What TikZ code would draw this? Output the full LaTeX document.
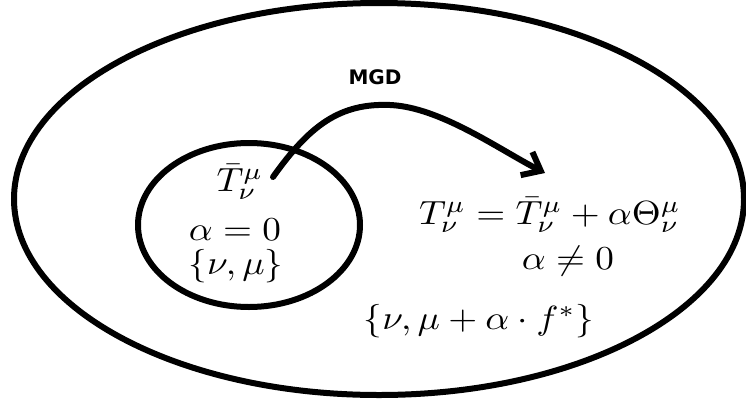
\documentclass[tikz,border=0pt]{standalone}
\usepackage{fontspec}
\newfontfamily\labelfont{DejaVu Sans}
\usetikzlibrary{arrows.meta}
\tikzset{
  ring/.style={draw=black, line width=6pt},
  mathtxt/.style={inner sep=0pt, xscale=3.72, yscale=3.35, transform shape},
  mgdtxt/.style={inner sep=0pt, font=\labelfont\bfseries\fontsize{20}{24}\selectfont},
  flow/.style={line width=6pt, line cap=round, -{Straight Barb[length=16pt,width=26pt,line width=6pt]}}
}
\begin{document}
\begin{tikzpicture}[x=1pt,y=-1pt]
  \useasboundingbox (0,0) rectangle (746,402);
  \fill[white] (0,0) rectangle (746,402);
  % outer region
  \draw[ring] (379,199) ellipse [x radius=365, y radius=196];
  % inner region
  \draw[ring] (249,225) ellipse [x radius=111, y radius=82];
  % texts inside inner
  \node[mathtxt] (tbar) at (240,182) {$\bar{T}^{\mu}_{\nu}$};
  \node[mathtxt] (a0) at (235,230) {$\alpha=0$};
  \node[mathtxt] (set0) at (236,266) {$\{\nu,\mu\}$};
  % texts in outer
  \node[mathtxt] (eq) at (550,215) {$T^{\mu}_{\nu}=\bar{T}^{\mu}_{\nu}+\alpha\Theta^{\mu}_{\nu}$};
  \node[mathtxt] (an0) at (568,261) {$\alpha\neq 0$};
  \node[mathtxt] (set1) at (479,321) {$\{\nu,\mu+\alpha\cdot f^{*}\}$};
  % label
  \node[mgdtxt] (mgd) at (375,77) {MGD};
  % arrow
  \coordinate (start) at (273,177);
  \coordinate (tip) at (545,173);
  \draw[flow] (start) .. controls (310,125) and (340,103) .. (390,105)
      .. controls (440,107) and (500,150) .. (tip);
\end{tikzpicture}
\end{document}
